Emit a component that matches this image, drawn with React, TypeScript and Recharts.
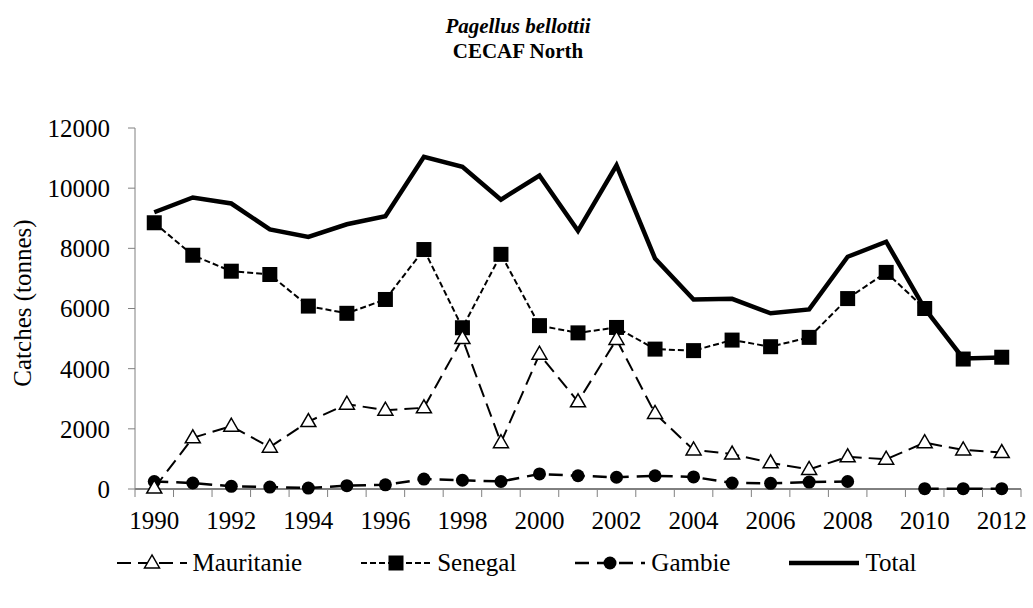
import React from "react";
import { LineChart, Line, XAxis, YAxis } from "recharts";

const years = [
  1990, 1991, 1992, 1993, 1994, 1995, 1996, 1997, 1998, 1999, 2000, 2001,
  2002, 2003, 2004, 2005, 2006, 2007, 2008, 2009, 2010, 2011, 2012,
];
const mauritanie = [
  30, 1700, 2090, 1390, 2240, 2820, 2620, 2700, 5000, 1540, 4480, 2900,
  4970, 2510, 1300, 1160, 870, 650, 1070, 990, 1540, 1300, 1210,
];
const senegal = [
  8850, 7770, 7240, 7130, 6080, 5840, 6300, 7960, 5360, 7800, 5430, 5190,
  5370, 4650, 4600, 4950, 4730, 5040, 6330, 7200, 6000, 4320, 4380,
];
const gambie: (number | null)[] = [
  250, 200, 90, 65, 30, 110, 140, 330, 290, 250, 500, 440,
  390, 440, 400, 200, 190, 230, 250, null, 10, 10, 10,
];
const total = [
  9200, 9690, 9490, 8630, 8380, 8800, 9070, 11040, 10710, 9620, 10420, 8580,
  10760, 7660, 6300, 6320, 5840, 5970, 7720, 8220, 6000, 4340, 4370,
];
const yTicks = [0, 2000, 4000, 6000, 8000, 10000, 12000];

const data = years.map((year, i) => ({
  year,
  mauritanie: mauritanie[i],
  senegal: senegal[i],
  gambie: gambie[i],
  total: total[i],
}));

// tick marks sit between categories, labels on every other year
const boundaries = [...years.map((y) => y - 0.5), years[years.length - 1] + 0.5];
const labelYears = years.filter((y) => y % 2 === 0);
const xTicks = [...boundaries, ...labelYears];

const FONT = "'Liberation Serif', 'Times New Roman', serif";

function Triangle({ cx, cy }: { cx: number; cy: number }) {
  return (
    <polygon
      points={`${cx},${cy - 8} ${cx - 7.5},${cy + 5} ${cx + 7.5},${cy + 5}`}
      fill="#fff"
      stroke="#000"
      strokeWidth={1.5}
    />
  );
}

function Square({ cx, cy }: { cx: number; cy: number }) {
  return <rect x={cx - 7.5} y={cy - 7.5} width={15} height={15} fill="#000" />;
}

function Circle({ cx, cy }: { cx: number; cy: number }) {
  return <circle cx={cx} cy={cy} r={6.5} fill="#000" />;
}

const makeDot = (Shape: React.FC<{ cx: number; cy: number }>) => (props: any) => {
  const { cx, cy, index, value } = props;
  if (value == null || cy == null || isNaN(cy)) return <g key={index} />;
  return (
    <g key={index}>
      <Shape cx={cx} cy={cy} />
    </g>
  );
};

const series = [
  { key: "mauritanie", name: "Mauritanie", dash: "14 7", width: 2, shape: Triangle },
  { key: "senegal", name: "Senegal", dash: "6 3", width: 2, shape: Square },
  { key: "gambie", name: "Gambie", dash: "14 8", width: 2.5, shape: Circle },
  { key: "total", name: "Total", dash: undefined, width: 4.5, shape: null },
];

function XTick({ x, y, payload }: any) {
  const v = payload.value;
  if (v % 1 !== 0) {
    return <line x1={x} x2={x} y1={y} y2={y + 8} stroke="#808080" strokeWidth={1} />;
  }
  return (
    <text x={x} y={y + 40} textAnchor="middle" fontSize={25} fontFamily={FONT} fill="#000">
      {v}
    </text>
  );
}

function LegendIcon({ s }: { s: (typeof series)[number] }) {
  const Shape = s.shape;
  return (
    <svg width={70} height={24}>
      <line x1={0} x2={70} y1={12} y2={12} stroke="#000" strokeWidth={s.width} strokeDasharray={s.dash} />
      {Shape && <Shape cx={35} cy={12} />}
    </svg>
  );
}

export default function App() {
  return (
    <div
      style={{
        position: "absolute",
        left: 0,
        top: 0,
        width: 1033,
        height: 608,
        background: "#fff",
        fontFamily: FONT,
      }}
    >
      <div
        style={{
          position: "absolute",
          top: 14,
          left: 0,
          width: 1036,
          textAlign: "center",
          fontSize: 21,
          fontWeight: "bold",
          lineHeight: "25px",
        }}
      >
        <div style={{ fontStyle: "italic" }}>Pagellus bellottii</div>
        <div>CECAF North</div>
      </div>

      <div
        style={{
          position: "absolute",
          left: 23,
          top: 303,
          transform: "translate(-50%, -50%) rotate(-90deg)",
          fontSize: 25,
          whiteSpace: "nowrap",
        }}
      >
        Catches (tonnes)
      </div>

      <div style={{ position: "absolute", left: 0, top: 0 }}>
        <LineChart width={1033} height={608} data={data} margin={{ top: 128, right: 12, bottom: 0, left: 0 }}>
          <XAxis
            dataKey="year"
            type="number"
            domain={[1989.5, 2012.5]}
            ticks={xTicks}
            interval={0}
            tick={<XTick />}
            tickLine={false}
            tickSize={0}
            tickMargin={0}
            axisLine={{ stroke: "#000", strokeWidth: 1 }}
            height={119}
          />
          <YAxis
            domain={[0, 12000]}
            ticks={yTicks}
            interval={0}
            width={135}
            tickSize={7}
            tickMargin={18}
            axisLine={{ stroke: "#808080" }}
            tickLine={{ stroke: "#808080" }}
            tick={{ fontSize: 25, fill: "#000", fontFamily: FONT }}
          />
          {[...series].reverse().map((s) => (
            <Line
              key={s.key}
              dataKey={s.key}
              name={s.name}
              type="linear"
              stroke="#000"
              strokeWidth={s.width}
              strokeDasharray={s.dash}
              dot={s.shape ? makeDot(s.shape) : false}
              activeDot={false}
              isAnimationActive={false}
              connectNulls={false}
            />
          ))}
        </LineChart>
      </div>

      <div
        style={{
          position: "absolute",
          top: 549,
          left: 0,
          width: 1033,
          display: "flex",
          justifyContent: "center",
          alignItems: "center",
          gap: 59,
          fontSize: 25,
        }}
      >
        {series.map((s) => (
          <div key={s.key} style={{ display: "flex", alignItems: "center", gap: 6 }}>
            <LegendIcon s={s} />
            <span>{s.name}</span>
          </div>
        ))}
      </div>
    </div>
  );
}
